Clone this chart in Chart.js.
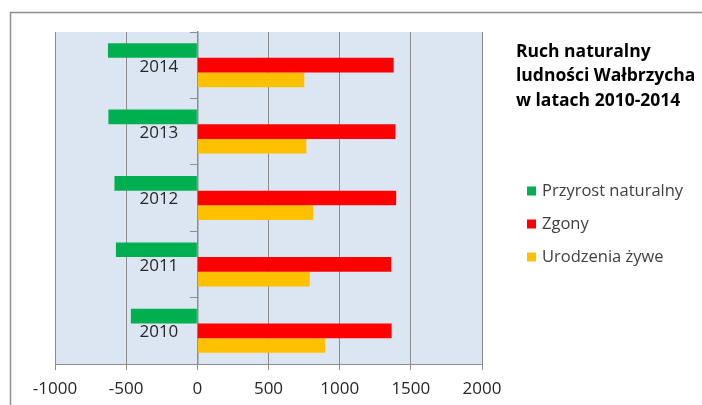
<!DOCTYPE html>
<html>
<head>
<meta charset="utf-8">
<script src="https://cdn.jsdelivr.net/npm/chart.js@4.4.0/dist/chart.umd.min.js"></script>
<style>
  html, body { margin: 0; padding: 0; background: #fff; }
  #wrap { width: 702px; height: 405px; }
</style>
</head>
<body>
<div id="wrap"><canvas id="ruch"></canvas></div>
<script>
// data (top row of the chart first)
const years = ['2014', '2013', '2012', '2011', '2010'];
const przyrost = [-628, -625, -582, -572, -467];
const zgony = [1379, 1392, 1397, 1362, 1365];
const urodzenia = [751, 766, 815, 790, 898];
const seriesNames = ['Przyrost naturalny', 'Zgony', 'Urodzenia żywe'];
const seriesColors = ['#00b050', '#ff0000', '#ffc000'];
const titleLines = ['Ruch naturalny', 'ludności Wałbrzycha', 'w latach 2010-2014'];
const xMin = -1000, xMax = 2000, xStep = 500;

const FONT = 'Open Sans';

//plot background + outer frame
const frame = {
  id: 'frame',
  beforeDraw(chart) {
    const {ctx, chartArea: {left, top, width, height}} = chart;
    ctx.save();
    ctx.fillStyle = '#dce6f2';
    ctx.fillRect(left, top, width, height);
    ctx.strokeStyle = '#8f8f8f';
    ctx.lineWidth = 1.5;
    ctx.beginPath();
    ctx.moveTo(10.5, 405);
    ctx.lineTo(10.5, 12.5);
    ctx.lineTo(702, 12.5);
    ctx.stroke();
    ctx.restore();
  }
};

//year labels sit left of the zero line (excel "next to axis")
const yearLabels = {
  id: 'yearLabels',
  afterDatasetsDraw(chart) {
    const {ctx, scales: {x, y}} = chart;
    const x0 = x.getPixelForValue(0);
    ctx.save();
    ctx.font = '17px ' + FONT;
    ctx.fillStyle = '#262626';
    ctx.textAlign = 'right';
    ctx.textBaseline = 'middle';
    chart.data.labels.forEach((lab, i) => {
      ctx.fillText(lab, x0 - 19, y.getPixelForTick(i) + 1.5);
    });
    ctx.restore();
  }
};

//title + legend on the right
const sidePanel = {
  id: 'sidePanel',
  afterDraw(chart) {
    const {ctx} = chart;
    ctx.save();
    ctx.textBaseline = 'middle';
    ctx.textAlign = 'left';
    ctx.fillStyle = '#000';
    ctx.font = 'bold 17.5px ' + FONT;
    titleLines.forEach((t, i) => ctx.fillText(t, 516, 52 + i * 24.5));

    ctx.font = '16.5px ' + FONT;
    chart.data.datasets.forEach((ds, i) => {
      const y = [191, 224, 257][i];
      ctx.fillStyle = ds.backgroundColor;
      ctx.fillRect(527, y - 4.5, 9, 9);
      ctx.fillStyle = '#404040';
      ctx.fillText(ds.label, 542, y);
    });
    ctx.restore();
  }
};

const cfg = {
  type: 'bar',
  data: {
    labels: years,
    datasets: [
      {label: seriesNames[0], data: przyrost, backgroundColor: seriesColors[0]},
      {label: seriesNames[1], data: zgony, backgroundColor: seriesColors[1]},
      {label: seriesNames[2], data: urodzenia, backgroundColor: seriesColors[2]}
    ]
  },
  options: {
    indexAxis: 'y',
    responsive: true,
    maintainAspectRatio: false,
    animation: false,
    layout: {padding: {left: 55, top: 32, right: 220, bottom: 0}},
    datasets: {bar: {barPercentage: 1, categoryPercentage: 0.663, borderWidth: 0}},
    plugins: {legend: {display: false}, tooltip: {enabled: false}},
    scales: {
      x: {
        min: xMin, max: xMax,
        ticks: {stepSize: xStep, color: '#262626', font: {family: FONT, size: 17}, padding: 9,
                callback: v => String(v)},
        grid: {color: '#8c8c8c', lineWidth: 1, tickLength: 6},
        border: {color: '#8c8c8c', width: 1},
        afterFit(scale) { scale.height = 41; }
      },
      y: {
        position: {x: 0},
        ticks: {display: false},
        grid: {drawOnChartArea: false, color: '#8c8c8c', tickLength: 7},
        border: {color: '#8c8c8c', width: 1.5}
      }
    }
  },
  plugins: [frame, yearLabels, sidePanel]
};

const ruch = new Chart(document.getElementById('ruch'), cfg);
</script>
</body>
</html>
